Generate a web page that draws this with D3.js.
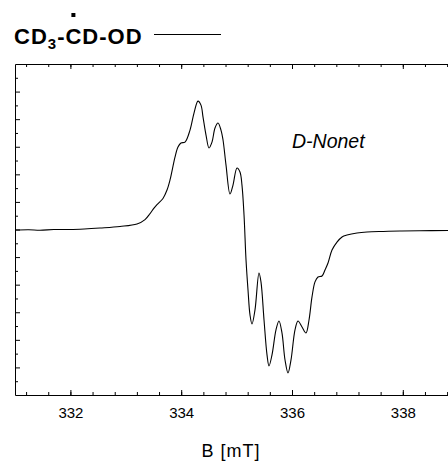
<!DOCTYPE html>
<html>
<head>
<meta charset="utf-8">
<script src="https://cdn.jsdelivr.net/npm/d3@7"></script>
<style>
  body { margin: 0; background: #fff; }
  text { font-family: "Liberation Sans", Arial, sans-serif; }
</style>
</head>
<body>
<svg id="chart" width="448" height="462"></svg>
<script>
// field values (mT) and signal (a.u.)
const fieldB = [331.000, 331.25, 331.451, 331.7, 331.993, 332.25, 332.534, 332.895, 333.202, 333.347, 333.437,
  333.509, 333.563, 333.671, 333.744, 333.798, 333.888, 333.942, 333.996, 334.069, 334.159,
  334.231, 334.303, 334.357, 334.394, 334.448, 334.502, 334.556, 334.610, 334.664, 334.718,
  334.755, 334.809, 334.881, 334.935, 335.007, 335.061, 335.097, 335.134, 335.170, 335.206,
  335.242, 335.278, 335.332, 335.404, 335.440, 335.495, 335.549, 335.585, 335.639, 335.711,
  335.765, 335.819, 335.874, 335.928, 335.982, 336.054, 336.108, 336.181, 336.253, 336.307,
  336.361, 336.415, 336.469, 336.542, 336.596, 336.650, 336.722, 336.812, 336.903, 336.993,
  337.173, 337.354, 337.65, 337.949, 338.3, 338.816];
const signal = [-0.04, -0.02, -0.05, 0.0, 0.0, 0.04, 0.11, 0.22, 0.40, 0.72, 1.15,
  1.55, 1.80, 2.25, 2.86, 3.59, 5.25, 5.98, 6.27, 6.34, 7.21,
  8.44, 9.31, 9.02, 8.15, 6.85, 5.91, 6.34, 7.36, 7.72, 7.21,
  6.49, 4.67, 2.57, 3.22, 4.46, 4.17, 3.22, 1.05, -2.21, -4.39,
  -6.20, -6.85, -5.83, -3.15, -3.80, -6.56, -9.09, -9.89, -9.09, -7.28,
  -6.63, -7.50, -9.46, -10.40, -9.46, -7.28, -6.63, -7.07, -7.50, -6.56,
  -4.89, -3.80, -3.44, -3.37, -2.93, -2.43, -1.49, -0.91, -0.54, -0.40,
  -0.25, -0.18, -0.14, -0.11, -0.09, -0.07];

const xMajor = [332, 334, 336, 338];
const xMinor = d3.range(331.2, 339, 0.4).map(v => +v.toFixed(1));
const yTicks = d3.range(-11, 12, 1);

const mLeft = 15, mTop = 64, mBottom = 395, mRight = 448;

const svg = d3.select('#chart');

const x = d3.scaleLinear().domain([331, 339]).range([mLeft, mLeft + 8 * 55.4]);
const y = d3.scaleLinear().domain([-12, 12]).range([mBottom, mTop]);

svg.append('clipPath').attr('id', 'clip')
  .append('rect').attr('x', mLeft).attr('y', mTop).attr('width', mRight - mLeft).attr('height', mBottom - mTop);

// axes
const axisG = svg.append('g').attr('clip-path', 'url(#clip)');

function xAxis(gen, yPos, vals, size) {
  const g = axisG.append('g')
    .attr('transform', `translate(0,${yPos})`)
    .call(gen(x).tickValues(vals).tickSize(size).tickFormat(''));
  g.select('.domain').remove();
  g.selectAll('line').attr('stroke', '#000');
  return g;
}
xAxis(d3.axisBottom, mBottom, xMinor, -3);
xAxis(d3.axisTop, mTop, xMinor, -3);
xAxis(d3.axisTop, mTop, xMajor, -5);
const xLab = svg.append('g')
  .attr('transform', `translate(0,${mBottom})`)
  .call(d3.axisBottom(x).tickValues(xMajor).tickSize(-5).tickPadding(12).tickFormat(d3.format('d')));
xLab.select('.domain').remove();
xLab.selectAll('line').attr('stroke', '#000');
xLab.selectAll('text').attr('font-size', 15).attr('fill', '#000')
  .attr('font-family', '"Liberation Sans", Arial, sans-serif');

const yAx = svg.append('g')
  .attr('transform', `translate(${mLeft},0)`)
  .call(d3.axisLeft(y).tickValues(yTicks).tickFormat(''));
yAx.select('.domain').remove();
yAx.selectAll('.tick line')
  .attr('x2', d => d % 2 === 0 ? 5 : 3)
  .attr('stroke', '#000');

// frame (left, top, bottom)
svg.append('path')
  .attr('d', `M${mRight},${mTop + 0.5}H${mLeft + 0.5}V${mBottom + 0.5}H${mRight}`)
  .attr('fill', 'none').attr('stroke', '#000').attr('stroke-width', 1);

// spectrum
const pts = fieldB.map((b, i) => [b, signal[i]]);
svg.append('path')
  .datum(pts)
  .attr('clip-path', 'url(#clip)')
  .attr('fill', 'none')
  .attr('stroke', '#000')
  .attr('stroke-width', 1.1)
  .attr('d', d3.line().x(d => x(d[0])).y(d => y(d[1])).curve(d3.curveCatmullRom.alpha(0.5)));

// annotation
svg.append('text')
  .attr('x', 292).attr('y', 148)
  .attr('font-size', 19.5).attr('font-style', 'italic')
  .text('D-Nonet');

// axis title
svg.append('text')
  .attr('x', 231).attr('y', 457)
  .attr('text-anchor', 'middle')
  .attr('font-size', 18).attr('letter-spacing', 1)
  .text('B [mT]');

// legend title
const title = svg.append('text')
  .attr('x', 14).attr('y', 44)
  .attr('font-size', 22).attr('font-weight', 'bold').attr('letter-spacing', 1);
title.append('tspan').text('CD');
title.append('tspan').attr('dy', 5).attr('font-size', 15).text('3');
title.append('tspan').attr('dy', -5).text('-');
title.append('tspan').text('C');
title.append('tspan').text('D-OD');

const cBox = title.node().getExtentOfChar(4);
svg.append('rect')
  .attr('x', cBox.x + cBox.width / 2 - 2.5).attr('y', 13)
  .attr('width', 4).attr('height', 4).attr('fill', '#000');

svg.append('line')
  .attr('x1', 154).attr('x2', 221).attr('y1', 34.5).attr('y2', 34.5)
  .attr('stroke', '#000').attr('stroke-width', 1);
</script>
</body>
</html>
